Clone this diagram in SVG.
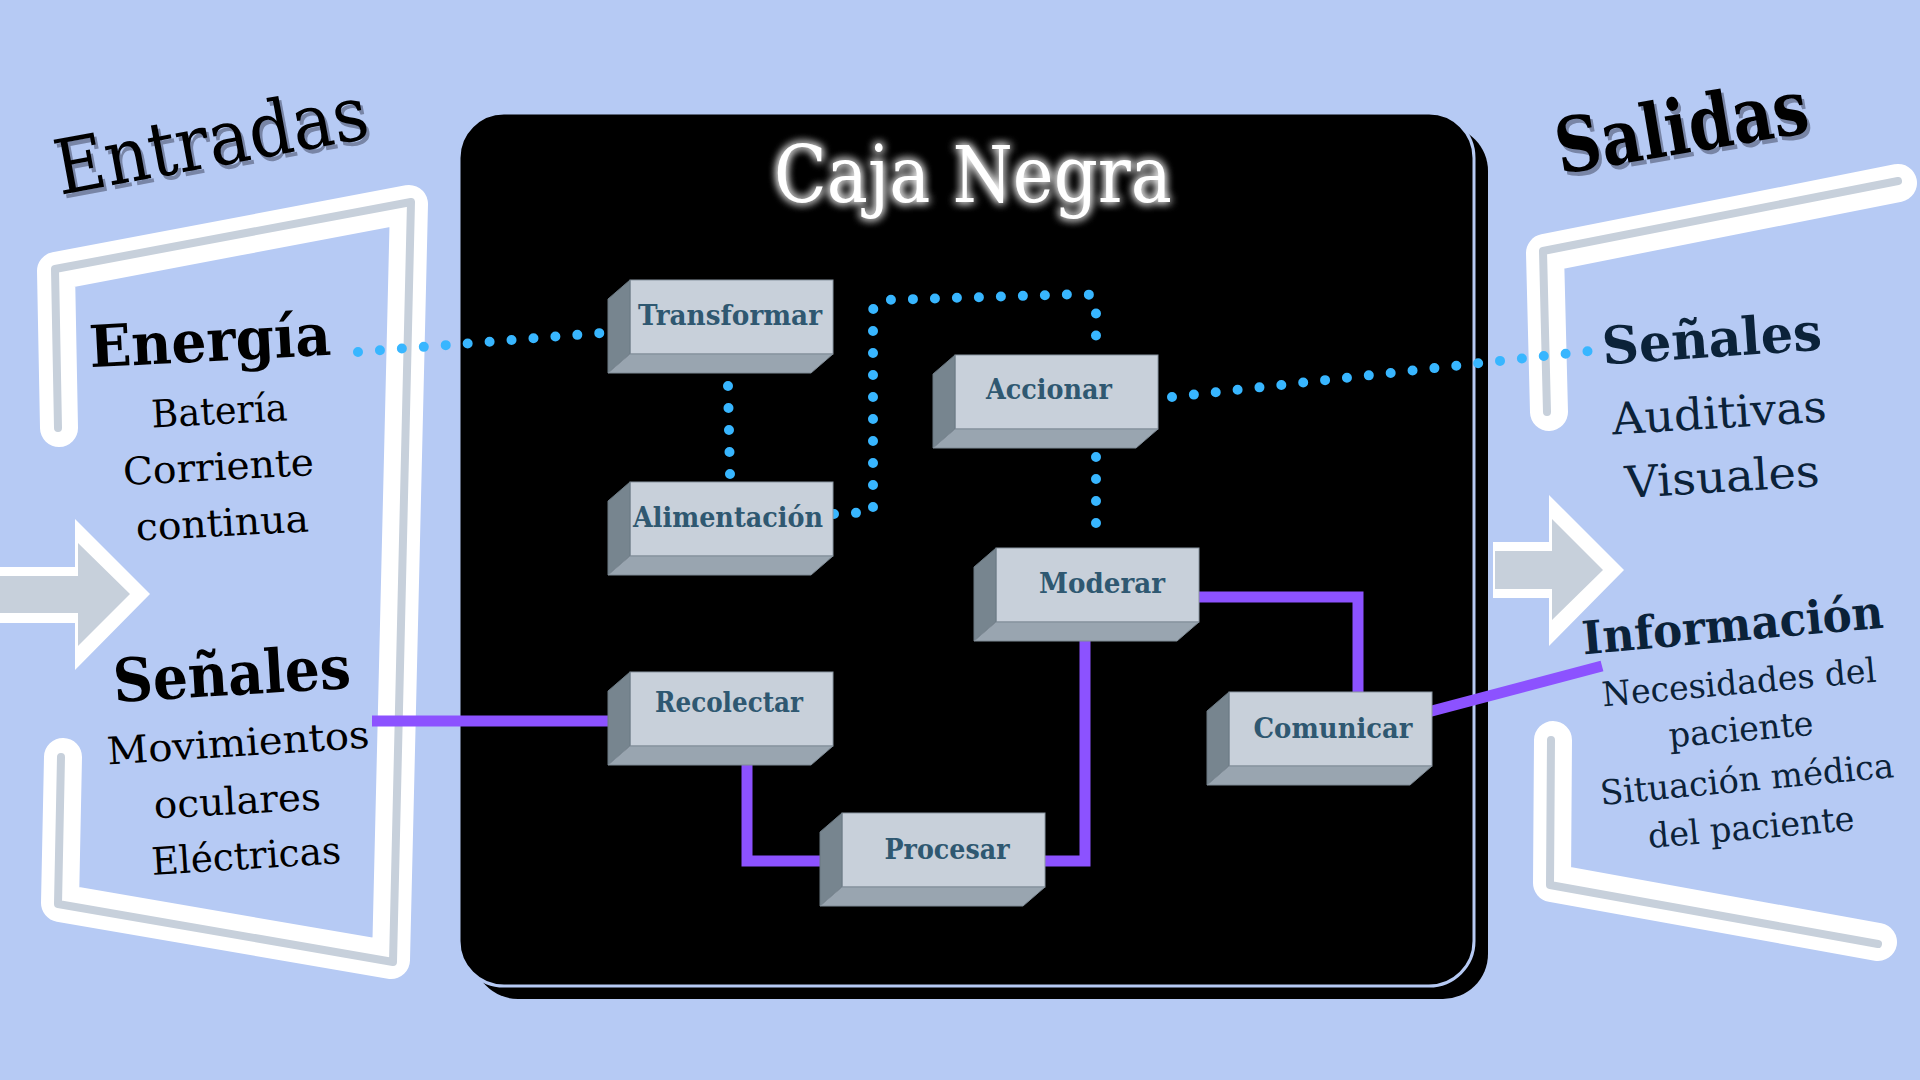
<svg xmlns="http://www.w3.org/2000/svg" width="1920" height="1080" viewBox="0 0 1920 1080">
<defs>
<style>
.bg{fill:#b6caf4}
.brW{fill:none;stroke:#ffffff;stroke-width:38;stroke-linejoin:round;stroke-linecap:round}
.brG{fill:none;stroke:#c7d0db;stroke-width:8;stroke-linejoin:round;stroke-linecap:round}
.arW{fill:#ffffff}
.arG{fill:#c7d0db}
.front{fill:#c8d0da;stroke:#8a96a2;stroke-width:1}
.side{fill:#77858f;stroke:#6a7882;stroke-width:1}
.bottom{fill:#99a5b0;stroke:#7f8b96;stroke-width:1}
.lbl{font-family:"DejaVu Serif","Liberation Serif",serif;font-weight:bold;font-size:27px;fill:#2f5871;text-anchor:middle}
.dot{fill:none;stroke:#38b6ff;stroke-width:10;stroke-linecap:round;stroke-linejoin:round;stroke-dasharray:0 22}
.pur{fill:none;stroke:#8c52ff;stroke-width:11;stroke-linejoin:miter}
.ttl{font-family:"DejaVu Serif","Liberation Serif",serif;font-size:78px;fill:#ffffff;text-anchor:middle}
.big{font-family:"DejaVu Serif","Liberation Serif",serif;font-size:76px}
.bigS{fill:#7885a6}
.hL{font-family:"DejaVu Serif","Liberation Serif",serif;font-weight:bold;text-anchor:middle;fill:#000}
.tL{font-family:"DejaVu Serif","Liberation Serif",serif;text-anchor:middle;fill:#000}
.hR{font-family:"DejaVu Serif","Liberation Serif",serif;font-weight:bold;text-anchor:middle;fill:#0b2239}
.tR{font-family:"DejaVu Serif","Liberation Serif",serif;text-anchor:middle;fill:#0b2239}
</style>
<filter id="glow" x="-20%" y="-60%" width="140%" height="220%">
<feGaussianBlur in="SourceGraphic" stdDeviation="5" result="b"/>
<feMerge><feMergeNode in="b"/><feMergeNode in="b"/><feMergeNode in="SourceGraphic"/></feMerge>
</filter>
<g id="box">
<rect x="0" y="0" width="203" height="74" class="front"/>
<polygon points="0,0 -22,19 -22,93 0,74" class="side"/>
<polygon points="0,74 203,74 181,93 -22,93" class="bottom"/>
</g>
</defs>

<rect class="bg" x="0" y="0" width="1920" height="1080"/>

<g id="brackets">
<path class="brW" d="M59,428 L56,271 L409,204 L391,960 L60,903 L63,757"/>
<path class="brG" d="M58,428 L55,269 L411,202 L393,962 L58,904 L61,757"/>
<path class="brW" d="M1898,183 L1545,253 L1549,412"/>
<path class="brG" d="M1898,181 L1543,251 L1547,412"/>
<path class="brW" d="M1553,740 L1552,883 L1878,942"/>
<path class="brG" d="M1551,740 L1550,885 L1878,944"/>
</g>

<g id="arrows">
<polygon class="arW" points="-5,567 75,567 75,519 150,594 75,670 75,623 -5,623"/>
<polygon class="arG" points="-5,576 78,576 78,543 130,594 78,646 78,613 -5,613"/>
<polygon class="arW" points="1493,542 1549,542 1549,495 1624,570 1549,646 1549,598 1493,598"/>
<polygon class="arG" points="1495,551 1552,551 1552,519 1603,570 1552,620 1552,589 1495,589"/>
</g>

<g id="caja-negra">
<rect x="473" y="126" width="1015" height="873" rx="45" fill="#000"/>
<rect x="459" y="113" width="1015" height="873" rx="45" fill="#000" stroke="#b6caf4" stroke-width="3"/>
<text class="ttl" x="973" y="202" textLength="398" lengthAdjust="spacingAndGlyphs" filter="url(#glow)">Caja Negra</text>
</g>

<g id="connectors">
<path class="dot" d="M358,352 L601,333"/>
<path class="dot" d="M728,386 L730,474"/>
<path class="dot" d="M834,514 L873,512 L873,312 Q873,301 885,300 L1084,294 Q1096,294 1096,306 L1096,348"/>
<path class="dot" d="M1096,457 L1096,545"/>
<path class="dot" d="M1172,397 L1590,351"/>
<path class="pur" d="M372,721 L612,721"/>
<path class="pur" d="M747,740 L747,861 L835,861"/>
<path class="pur" d="M1040,861 L1085,861 L1085,615"/>
<path class="pur" d="M1195,597 L1358,597 L1358,695"/>
<path class="pur" d="M1428,712 L1602,666"/>
</g>

<g id="n-transformar"><use href="#box" x="630" y="280"/><text class="lbl" x="730" y="325" textLength="184" lengthAdjust="spacingAndGlyphs">Transformar</text></g>
<g id="n-alimentacion"><use href="#box" x="630" y="482"/><text class="lbl" x="728" y="527" textLength="190" lengthAdjust="spacingAndGlyphs">Alimentación</text></g>
<g id="n-accionar"><use href="#box" x="955" y="355"/><text class="lbl" x="1049" y="399" textLength="126" lengthAdjust="spacingAndGlyphs">Accionar</text></g>
<g id="n-moderar"><use href="#box" x="996" y="548"/><text class="lbl" x="1102" y="593" textLength="126" lengthAdjust="spacingAndGlyphs">Moderar</text></g>
<g id="n-recolectar"><use href="#box" x="630" y="672"/><text class="lbl" x="729" y="712" textLength="148" lengthAdjust="spacingAndGlyphs">Recolectar</text></g>
<g id="n-procesar"><use href="#box" x="842" y="813"/><text class="lbl" x="947" y="859" textLength="125" lengthAdjust="spacingAndGlyphs">Procesar</text></g>
<g id="n-comunicar"><use href="#box" x="1229" y="692"/><text class="lbl" x="1333" y="738" textLength="159" lengthAdjust="spacingAndGlyphs">Comunicar</text></g>

<g id="entradas">
<text class="big bigS" x="63" y="199" transform="rotate(-10.5 63 199)" textLength="317" lengthAdjust="spacingAndGlyphs">Entradas</text>
<text class="big" x="60" y="195" transform="rotate(-10.5 60 195)" textLength="317" lengthAdjust="spacingAndGlyphs">Entradas</text>
<text class="hL" font-size="58" x="211" y="361" transform="rotate(-3 211 361)" textLength="242" lengthAdjust="spacingAndGlyphs">Energía</text>
<text class="tL" font-size="38" x="220" y="424" transform="rotate(-3 220 424)" textLength="136" lengthAdjust="spacingAndGlyphs">Batería</text>
<text class="tL" font-size="38" x="219" y="480" transform="rotate(-3 219 480)" textLength="191" lengthAdjust="spacingAndGlyphs">Corriente</text>
<text class="tL" font-size="38" x="223" y="536" transform="rotate(-3 223 536)" textLength="173" lengthAdjust="spacingAndGlyphs">continua</text>
<text class="hL" font-size="60" x="233" y="695" transform="rotate(-3.4 233 695)" textLength="238" lengthAdjust="spacingAndGlyphs">Señales</text>
<text class="tL" font-size="38" x="239" y="756" transform="rotate(-3.7 239 756)" textLength="263" lengthAdjust="spacingAndGlyphs">Movimientos</text>
<text class="tL" font-size="38" x="238" y="814" transform="rotate(-3 238 814)" textLength="167" lengthAdjust="spacingAndGlyphs">oculares</text>
<text class="tL" font-size="38" x="247" y="869" transform="rotate(-3.6 247 869)" textLength="190" lengthAdjust="spacingAndGlyphs">Eléctricas</text>
</g>

<g id="salidas">
<text class="big bigS" font-weight="bold" font-size="70" x="1563" y="178" transform="rotate(-9.5 1563 178)" textLength="255" lengthAdjust="spacingAndGlyphs">Salidas</text>
<text class="big" font-weight="bold" font-size="70" x="1560" y="174" transform="rotate(-9.5 1560 174)" textLength="255" lengthAdjust="spacingAndGlyphs">Salidas</text>
<text class="hR" font-size="52" x="1713" y="357" transform="rotate(-3.9 1713 357)" textLength="220" lengthAdjust="spacingAndGlyphs">Señales</text>
<text class="tR" font-size="44" x="1720" y="428" transform="rotate(-3.5 1720 428)" textLength="215" lengthAdjust="spacingAndGlyphs">Auditivas</text>
<text class="tR" font-size="44" x="1723" y="492" transform="rotate(-3.5 1723 492)" textLength="195" lengthAdjust="spacingAndGlyphs">Visuales</text>
<text class="hR" font-size="46" x="1734" y="641" transform="rotate(-5.1 1734 641)" textLength="302" lengthAdjust="spacingAndGlyphs">Información</text>
<text class="tR" font-size="34" x="1740" y="694" transform="rotate(-5.2 1740 694)" textLength="275" lengthAdjust="spacingAndGlyphs">Necesidades del</text>
<text class="tR" font-size="34" x="1742" y="741" transform="rotate(-5 1742 741)" textLength="145" lengthAdjust="spacingAndGlyphs">paciente</text>
<text class="tR" font-size="34" x="1748" y="791" transform="rotate(-5.4 1748 791)" textLength="295" lengthAdjust="spacingAndGlyphs">Situación médica</text>
<text class="tR" font-size="34" x="1752" y="839" transform="rotate(-5 1752 839)" textLength="207" lengthAdjust="spacingAndGlyphs">del paciente</text>
</g>
</svg>
